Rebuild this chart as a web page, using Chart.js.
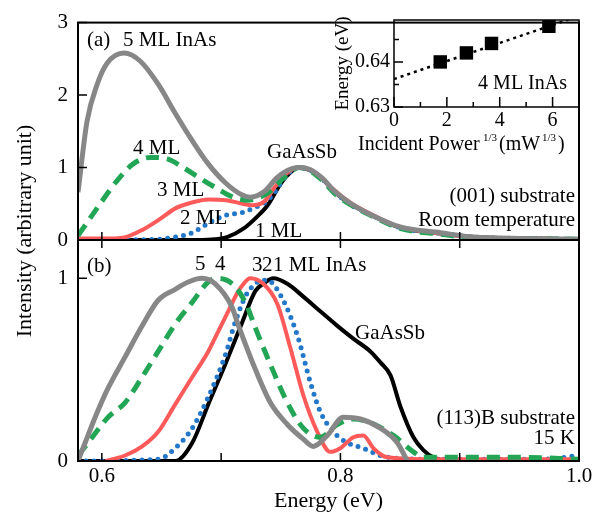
<!DOCTYPE html>
<html>
<head>
<meta charset="utf-8">
<script src="https://cdn.jsdelivr.net/npm/chart.js@4.4.1/dist/chart.umd.min.js"></script>
<style>
  body { margin: 0; background: #fff; }
  #wrap { position: relative; width: 599px; height: 513px; }
  canvas { position: absolute; left: 0; top: 0; }
</style>
</head>
<body>
<div id="wrap">
  <canvas id="cb" width="599" height="513"></canvas>
  <canvas id="ca" width="599" height="513"></canvas>
  <canvas id="ci" width="599" height="513"></canvas>
</div>
<script>
// ---- panel (a): (001) substrate, room temperature ----
const aE5 = [0.58, 0.5876, 0.5961, 0.6044, 0.6187, 0.6321, 0.6472, 0.6615, 0.6758, 0.6892, 0.7035, 0.7177, 0.7244, 0.7370, 0.7462, 0.7555, 0.765, 0.775, 0.785, 0.794, 0.808, 0.823, 0.850, 0.884, 0.912, 0.953, 1.0];
const aI5 = [0.66, 1.64, 2.15, 2.44, 2.58, 2.47, 2.15, 1.75, 1.37, 1.05, 0.79, 0.62, 0.59, 0.68, 0.85, 0.96, 1.0, 0.97, 0.85, 0.69, 0.51, 0.37, 0.18, 0.10, 0.04, 0.02, 0.01];
const aE4 = [0.58, 0.5986, 0.6128, 0.6263, 0.6405, 0.6548, 0.6682, 0.6825, 0.6967, 0.7102, 0.722, 0.731, 0.740, 0.750, 0.758, 0.765, 0.775, 0.785, 0.794, 0.808, 0.823, 0.850, 0.884, 0.912, 0.953, 1.0];
const aI4 = [0.06, 0.50, 0.82, 1.05, 1.14, 1.12, 1.00, 0.85, 0.71, 0.59, 0.55, 0.58, 0.66, 0.82, 0.94, 1.0, 0.95, 0.82, 0.66, 0.49, 0.36, 0.16, 0.08, 0.03, 0.02, 0.01];
const aE3 = [0.58, 0.605, 0.620, 0.634, 0.647, 0.662, 0.676, 0.689, 0.704, 0.718, 0.726, 0.736, 0.745, 0.755, 0.765, 0.775, 0.785, 0.794, 0.808, 0.823, 0.850, 0.884, 0.912, 0.953, 1.0];
const aI3 = [0.02, 0.02, 0.04, 0.14, 0.27, 0.44, 0.52, 0.56, 0.55, 0.50, 0.48, 0.53, 0.73, 0.92, 1.0, 0.97, 0.85, 0.70, 0.52, 0.38, 0.18, 0.09, 0.04, 0.02, 0.01];
const aE2 = [0.615, 0.6472, 0.6615, 0.6758, 0.6892, 0.7035, 0.7177, 0.7286, 0.737, 0.745, 0.755, 0.765, 0.775, 0.785, 0.794, 0.808, 0.823, 0.850, 0.884, 0.912, 0.953, 1.0];
const aI2 = [0.0, 0.01, 0.04, 0.10, 0.23, 0.34, 0.38, 0.45, 0.52, 0.66, 0.90, 1.0, 0.96, 0.84, 0.68, 0.50, 0.37, 0.17, 0.09, 0.04, 0.02, 0.01];
const aE1 = [0.58, 0.68, 0.695, 0.705, 0.719, 0.730, 0.739, 0.750, 0.758, 0.765, 0.775, 0.785, 0.794, 0.808, 0.823, 0.850, 0.884, 0.912, 0.953, 1.0];
const aI1 = [0, 0, 0.01, 0.04, 0.16, 0.32, 0.48, 0.78, 0.93, 1.0, 0.96, 0.84, 0.68, 0.50, 0.37, 0.17, 0.09, 0.04, 0.02, 0.01];

// ---- panel (b): (113)B substrate, 15 K ----
const bE5 = [0.58, 0.586, 0.5944, 0.6053, 0.6195, 0.6338, 0.6472, 0.6615, 0.6724, 0.6841, 0.6950, 0.7093, 0.7135, 0.7269, 0.7412, 0.7555, 0.7689, 0.7773, 0.7890, 0.8024, 0.8167, 0.8335, 0.8477, 0.8561];
const bI5 = [0.0, 0.10, 0.24, 0.40, 0.57, 0.74, 0.88, 0.94, 0.98, 1.0, 0.97, 0.84, 0.76, 0.53, 0.32, 0.20, 0.12, 0.08, 0.14, 0.24, 0.23, 0.18, 0.10, 0.0];
const bE4 = [0.58, 0.5885, 0.6053, 0.6195, 0.6338, 0.6472, 0.6615, 0.6758, 0.6892, 0.6976, 0.7093, 0.7202, 0.7286, 0.7412, 0.7555, 0.7689, 0.7831, 0.7974, 0.8108, 0.8251, 0.8444, 0.8612, 0.8695, 0.90, 0.95, 1.0];
const bI4 = [0.03, 0.10, 0.24, 0.32, 0.46, 0.60, 0.75, 0.87, 0.98, 1.0, 0.97, 0.87, 0.73, 0.53, 0.32, 0.18, 0.13, 0.20, 0.23, 0.21, 0.14, 0.05, 0.02, 0.02, 0.02, 0.01];
const bE3 = [0.6028, 0.6195, 0.6338, 0.6472, 0.6615, 0.6758, 0.6892, 0.6976, 0.7060, 0.7135, 0.72, 0.7244, 0.7353, 0.7471, 0.7580, 0.7689, 0.7806, 0.7915, 0.7999, 0.8108, 0.8192, 0.8276, 0.8393, 0.87, 0.92, 1.0];
const bI3 = [0.0, 0.03, 0.08, 0.16, 0.31, 0.46, 0.60, 0.71, 0.82, 0.92, 0.98, 1.0, 0.97, 0.86, 0.62, 0.36, 0.16, 0.05, 0.07, 0.13, 0.14, 0.07, 0.02, 0.01, 0.01, 0.01];
const bE2 = [0.58, 0.6472, 0.6615, 0.6758, 0.6892, 0.7035, 0.7118, 0.7202, 0.7269, 0.7345, 0.7387, 0.7496, 0.7638, 0.7748, 0.7831, 0.7940, 0.8058, 0.8192, 0.8335, 0.87, 0.92, 0.97, 1.0];
const bI2 = [0.0, 0.01, 0.07, 0.18, 0.35, 0.58, 0.76, 0.90, 0.96, 0.99, 0.99, 0.91, 0.69, 0.43, 0.27, 0.16, 0.10, 0.07, 0.03, 0.01, 0.01, 0.01, 0.03];
const bE1 = [0.58, 0.6615, 0.6758, 0.6892, 0.7035, 0.7177, 0.7286, 0.7353, 0.7437, 0.7555, 0.7689, 0.7831, 0.7974, 0.8108, 0.8251, 0.8335, 0.8419, 0.8502, 0.8612, 0.8695, 0.8779, 0.89, 1.0];
const bI1 = [0.0, 0.0, 0.10, 0.31, 0.53, 0.76, 0.93, 0.97, 1.0, 0.97, 0.90, 0.82, 0.74, 0.67, 0.60, 0.54, 0.47, 0.30, 0.13, 0.06, 0.02, 0.0, 0.0];

// ---- inset: peak energy of 4 ML vs power^(1/3) ----
const inX = [1.75, 2.74, 3.69, 5.86];
const inY = [0.6400, 0.6420, 0.6441, 0.6479];
const fitX = [0, 6.6];
const fitY = [0.6362, 0.6494];

// ticks
const xTickVals = [0.6, 0.7, 0.8, 0.9, 1.0];
const xTickText = ['0.6', '', '0.8', '', '1.0'];
const aYTicks = [0, 1, 2, 3];
const bYTicks = [0, 1];
const inXTicks = [0, 2, 4, 6];
const inXMinor = [1, 3, 5];
const inYTicks = [0.63, 0.64];
const inYMinor = [0.635, 0.645];

const SERIF = "'Liberation Serif', 'Times New Roman', serif";
Chart.defaults.font.family = SERIF;
Chart.defaults.color = '#000';

const pts = (xs, ys) => xs.map((x, i) => ({x: x, y: ys[i]}));

const looks = {
  5: {borderColor: '#878787', borderWidth: 5},
  4: {borderColor: '#22a655', borderWidth: 5, borderDash: [13, 8]},
  3: {borderColor: '#ff5a5a', borderWidth: 4},
  2: {borderColor: '#2277c8', borderWidth: 5, borderDash: [0, 8], borderCapStyle: 'round'},
  1: {borderColor: '#000000', borderWidth: 4}
};
function series(xs, ys, k) {
  return Object.assign({data: pts(xs, ys), pointRadius: 0, fill: false, cubicInterpolationMode: 'monotone'}, looks[k]);
}

function drawText(ctx, items) {
  ctx.save();
  ctx.fillStyle = '#000';
  ctx.textBaseline = 'middle';
  items.forEach(t => {
    ctx.font = (t[4] || 21) + 'px ' + SERIF;
    ctx.textAlign = t[3] || 'left';
    ctx.fillText(t[0], t[1], t[2]);
  });
  ctx.restore();
}
function drawFrame(c, w) {
  const a = c.chartArea, ctx = c.ctx;
  ctx.save();
  ctx.strokeStyle = '#000';
  ctx.lineWidth = w;
  ctx.strokeRect(a.left, a.top, a.right - a.left, a.bottom - a.top);
  ctx.restore();
}
function drawTicks(c, axis, vals, len, side) {
  const ctx = c.ctx, a = c.chartArea, s = c.scales[axis];
  ctx.save();
  ctx.strokeStyle = '#000';
  ctx.lineWidth = 1.5;
  ctx.beginPath();
  vals.forEach(v => {
    const p = s.getPixelForValue(v);
    if (axis === 'x') {
      const y0 = side === 'top' ? a.top : a.bottom;
      ctx.moveTo(p, y0);
      ctx.lineTo(p, side === 'top' ? y0 + len : y0 - len);
    } else {
      ctx.moveTo(a.left, p);
      ctx.lineTo(a.left + len, p);
    }
  });
  ctx.stroke();
  ctx.restore();
}

const noGrid = {display: false, drawTicks: false};
const baseOpts = {responsive: false, animation: false, events: []};
const noPlug = {legend: {display: false}, tooltip: {enabled: false}};

// panel (a)
new Chart(document.getElementById('ca'), {
  type: 'line',
  data: {datasets: [series(aE5, aI5, 5), series(aE4, aI4, 4), series(aE3, aI3, 3), series(aE2, aI2, 2), series(aE1, aI1, 1)]},
  options: Object.assign({}, baseOpts, {
    layout: {padding: {top: 20, right: 20, bottom: 0, left: 0}},
    plugins: noPlug,
    scales: {
      x: {type: 'linear', min: 0.58, max: 1.0, ticks: {display: false}, grid: noGrid, border: {display: false},
          afterFit: s => { s.height = 273; }},
      y: {type: 'linear', min: 0, max: 3, grid: noGrid, border: {display: false},
          ticks: {padding: 10, font: {size: 21}},
          afterBuildTicks: s => { s.ticks = aYTicks.map(v => ({value: v})); },
          afterFit: s => { s.width = 78; }}
    }
  }),
  plugins: [{
    id: 'decoA',
    afterDraw(c) {
      drawFrame(c, 2);
      drawTicks(c, 'y', aYTicks, 9);
      drawTicks(c, 'x', xTickVals.slice(0, 4), 8, 'bottom');
      drawText(c.ctx, [
        ['(a)', 87, 40], ['5 ML InAs', 123, 40],
        ['4 ML', 133, 148], ['3 ML', 157, 190], ['2 ML', 180, 218], ['1 ML', 255, 231],
        ['GaAsSb', 267, 152],
        ['(001) substrate', 575, 196, 'right'], ['Room temperature', 575, 220, 'right']
      ]);
      const ctx = c.ctx;
      ctx.save();
      ctx.translate(25, 231);
      ctx.rotate(-Math.PI / 2);
      ctx.font = '22px ' + SERIF;
      ctx.textAlign = 'center';
      ctx.textBaseline = 'middle';
      ctx.fillStyle = '#000';
      ctx.fillText('Intensity (arbitrary unit)', 0, 0);
      ctx.restore();
    }
  }]
});

// panel (b)
new Chart(document.getElementById('cb'), {
  type: 'line',
  data: {datasets: [series(bE5, bI5, 5), series(bE4, bI4, 4), series(bE3, bI3, 3), series(bE2, bI2, 2), series(bE1, bI1, 1)]},
  options: Object.assign({}, baseOpts, {
    layout: {padding: {top: 240, right: 20, bottom: 0, left: 0}},
    plugins: noPlug,
    scales: {
      x: {type: 'linear', min: 0.58, max: 1.0, grid: noGrid, border: {display: false},
          ticks: {padding: 3, font: {size: 21}, maxRotation: 0, autoSkip: false,
                  callback: (v, i) => xTickText[i]},
          afterBuildTicks: s => { s.ticks = xTickVals.map(v => ({value: v})); },
          title: {display: true, text: 'Energy (eV)', font: {size: 22, lineHeight: 1}, padding: {top: 0, bottom: 1}},
          afterFit: s => { s.height = 52; }},
      y: {type: 'linear', min: 0, max: 1.21, grid: noGrid, border: {display: false},
          ticks: {padding: 10, font: {size: 21}},
          afterBuildTicks: s => { s.ticks = bYTicks.map(v => ({value: v})); },
          afterFit: s => { s.width = 78; }}
    }
  }),
  plugins: [{
    id: 'decoB',
    afterDraw(c) {
      drawFrame(c, 2);
      drawTicks(c, 'y', bYTicks, 9);
      drawTicks(c, 'x', xTickVals.slice(0, 4), 8, 'bottom');
      drawTicks(c, 'x', xTickVals.slice(0, 4), 8, 'top');
      drawText(c.ctx, [
        ['(b)', 87, 266], ['5', 195, 264], ['4', 215, 264],
        ['3', 252, 265], ['2', 262, 265], ['1 ML InAs', 273, 265],
        ['GaAsSb', 355, 333],
        ['(113)B substrate', 575, 418, 'right'], ['15 K', 575, 438, 'right']
      ]);
    }
  }]
});

// inset
new Chart(document.getElementById('ci'), {
  type: 'scatter',
  data: {datasets: [
    {data: pts(inX, inY), pointStyle: 'rect', pointRadius: 9.5, backgroundColor: '#000', borderWidth: 0},
    {data: pts(fitX, fitY), showLine: true, pointRadius: 0, borderColor: '#000', borderWidth: 2.5, borderDash: [3, 4]}
  ]},
  options: Object.assign({}, baseOpts, {
    layout: {padding: {top: 20, right: 20, bottom: 376, left: 330}},
    plugins: noPlug,
    scales: {
      x: {type: 'linear', min: 0, max: 7, grid: noGrid, border: {display: false},
          ticks: {padding: 2, font: {size: 20}, maxRotation: 0},
          afterBuildTicks: s => { s.ticks = inXTicks.map(v => ({value: v})); },
          afterFit: s => { s.height = 30; }},
      y: {type: 'linear', min: 0.63, max: 0.6493, grid: noGrid, border: {display: false},
          ticks: {padding: 4, font: {size: 20}, callback: v => v.toFixed(2)},
          afterBuildTicks: s => { s.ticks = inYTicks.map(v => ({value: v})); },
          title: {display: true, text: 'Energy (eV)', font: {size: 19, lineHeight: 1}, padding: {top: 4, bottom: 0}},
          afterFit: s => { s.width = 64; }}
    }
  }),
  plugins: [{
    id: 'decoI',
    afterDraw(c) {
      drawFrame(c, 1.5);
      drawTicks(c, 'x', inXTicks, 10, 'bottom');
      drawTicks(c, 'x', inXMinor, 5, 'bottom');
      drawTicks(c, 'y', inYTicks, 9);
      drawTicks(c, 'y', inYMinor, 5);
      drawText(c.ctx, [['4 ML InAs', 567, 84, 'right', 20]]);
      // axis title with superscripts, laid out piece by piece
      const ctx = c.ctx;
      ctx.save();
      ctx.fillStyle = '#000';
      ctx.textBaseline = 'middle';
      ctx.textAlign = 'left';
      const parts = [['Incident Power', 20, 145, 358], ['1/3', 11, 138, 483], ['(mW', 20, 145, 499], ['1/3', 11, 138, 542], [')', 20, 145, 558]];
      parts.forEach(p => {
        ctx.font = p[1] + 'px ' + SERIF;
        ctx.fillText(p[0], p[3], p[2]);
      });
      ctx.restore();
    }
  }]
});
</script>
</body>
</html>
